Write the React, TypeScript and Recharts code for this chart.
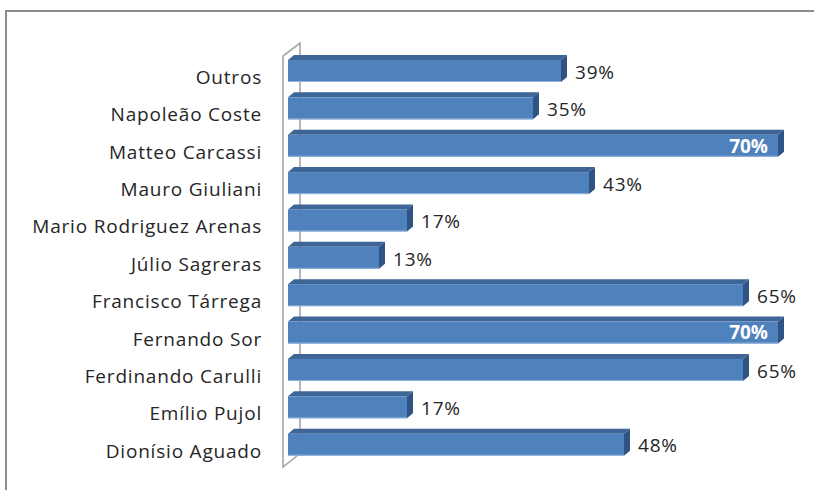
import React from 'react';
import { BarChart, Bar, XAxis, YAxis, LabelList, ReferenceArea } from 'recharts';

const categories = [
  'Outros',
  'Napoleão Coste',
  'Matteo Carcassi',
  'Mauro Giuliani',
  'Mario Rodriguez Arenas',
  'Júlio Sagreras',
  'Francisco Tárrega',
  'Fernando Sor',
  'Ferdinando Carulli',
  'Emílio Pujol',
  'Dionísio Aguado',
];
const values = [39, 35, 70, 43, 17, 13, 65, 70, 65, 17, 48];
const xTicks = [0, 70];

const data = categories.map((name, i) => ({ name, value: values[i] }));
const maxValue = Math.max(...values);

const FONT = '"Open Sans", "Noto Sans", sans-serif';
const FS = 19;
const LS = 0.8;
const DX = 6;
const DY = 5;

const Bar3D = (props: any) => {
  const { x, y, width, height } = props;
  if (width == null || height == null) return null;
  const x2 = x + width;
  return (
    <g>
      <polygon
        points={`${x},${y} ${x + DX},${y - DY} ${x2 + DX},${y - DY} ${x2},${y}`}
        fill="#3D6596"
      />
      <polygon
        points={`${x2},${y} ${x2 + DX},${y - DY} ${x2 + DX},${y + height - DY} ${x2},${y + height}`}
        fill="#2F5382"
      />
      <rect x={x} y={y} width={width} height={height} fill="#4F81BD" />
      <line x1={x} x2={x2} y1={y + height - 0.5} y2={y + height - 0.5} stroke="#8FB2DC" strokeWidth={1} />
    </g>
  );
};

const Wall = (props: any) => {
  const { x, y, height } = props;
  if (x == null) return null;
  const fx = x - 5;
  const bx = x + 12;
  const top = y;
  const bottom = y + height;
  const d = `M ${fx} ${top + 4} L ${fx} ${bottom + 4} L ${bx - 2} ${bottom - 8} M ${fx} ${top + 4} L ${bx} ${top - 9} L ${bx} ${bottom - 8}`;
  return <path d={d} fill="none" stroke="#A6A6A6" strokeWidth={1.6} />;
};

const CategoryTick = (props: any) => {
  const { x, y, payload } = props;
  return (
    <text
      x={x}
      y={y + 6.5}
      dy="0.36em"
      textAnchor="end"
      fill="#262626"
      fontFamily={FONT}
      fontSize={FS}
      letterSpacing={LS}
    >
      {payload.value}
    </text>
  );
};

const ValueLabel = (props: any) => {
  const { x, y, width, height, value } = props;
  const cy = y + height / 2;
  if (value === maxValue) {
    return (
      <text
        x={x + width - 10}
        y={cy}
        dy="0.36em"
        textAnchor="end"
        fill="#FFFFFF"
        fontFamily={FONT}
        fontSize={FS}
        fontWeight="bold"
      >
        {`${value}%`}
      </text>
    );
  }
  return (
    <text
      x={x + width + 14}
      y={cy + 1}
      dy="0.36em"
      textAnchor="start"
      fill="#262626"
      fontFamily={FONT}
      fontSize={FS}
      letterSpacing={LS}
    >
      {`${value}%`}
    </text>
  );
};

export default function App() {
  return (
    <div style={{ position: 'absolute', left: 0, top: 0, width: 814, height: 490, background: '#fff', overflow: 'hidden' }}>
      <svg width={814} height={490} style={{ position: 'absolute', left: 0, top: 0, display: 'block' }}>
        <path d="M 814 11 L 6 11 L 6 490" fill="none" stroke="#8C8C8C" strokeWidth={2} />
      </svg>
      <div style={{ position: 'absolute', left: 0, top: 0 }}>
        <BarChart
          width={814}
          height={490}
          data={data}
          layout="vertical"
          margin={{ top: 52, right: 36, bottom: 27, left: 0 }}
          barCategoryGap={0}
        >
          <XAxis type="number" domain={[xTicks[0], xTicks[1]]} hide />
          <YAxis
            type="category"
            dataKey="name"
            width={288}
            axisLine={false}
            tickLine={false}
            tickSize={0}
            tickMargin={26}
            interval={0}
            tick={(p: any) => <CategoryTick {...p} />}
          />
          <ReferenceArea x1={xTicks[0]} x2={xTicks[1]} shape={(p: any) => <Wall {...p} />} ifOverflow="visible" />
          <Bar dataKey="value" barSize={22} shape={(p: any) => <Bar3D {...p} />} isAnimationActive={false}>
            <LabelList dataKey="value" content={(p: any) => <ValueLabel {...p} />} />
          </Bar>
        </BarChart>
      </div>
    </div>
  );
}
